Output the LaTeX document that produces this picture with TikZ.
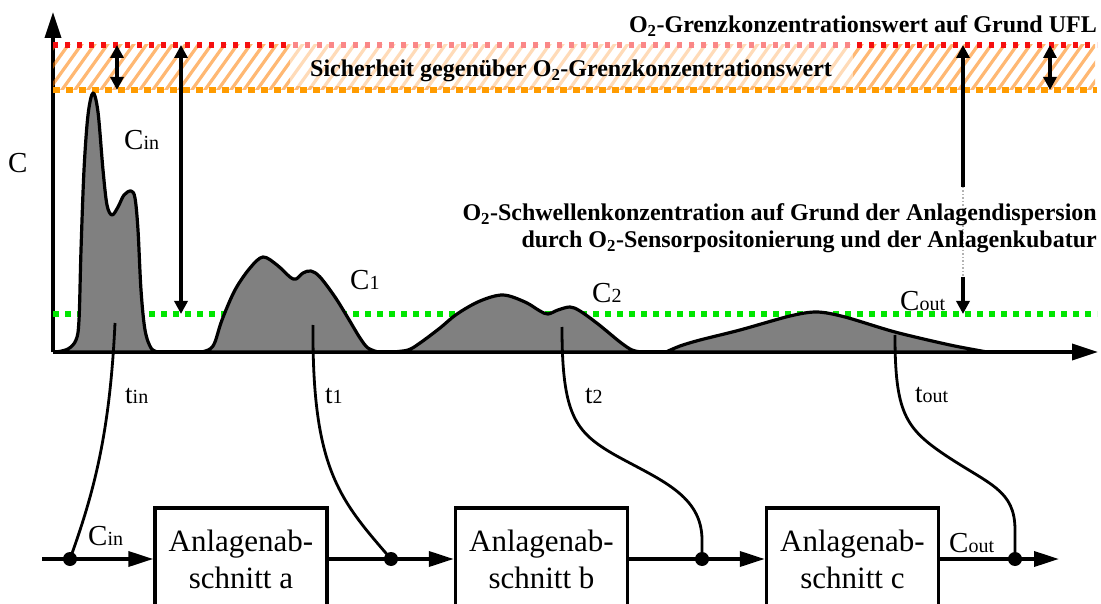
\documentclass[tikz,border=0pt]{standalone}
\usepackage{fontspec}
\setmainfont{Liberation Serif}
\usetikzlibrary{arrows.meta}

\definecolor{limitred}{RGB}{245,15,15}
\definecolor{safeorange}{RGB}{255,155,0}
\definecolor{hatchorange}{RGB}{255,125,0}
\definecolor{threshgreen}{RGB}{0,230,0}
\definecolor{peakgray}{RGB}{128,128,128}

\tikzset{
  axis/.style={line width=3.6pt,-{Triangle[length=26pt,width=16pt]}},
  peak/.style={fill=peakgray,draw=black,line width=3.2pt,line join=round},
  tracer/.style={line width=2.8pt},
  span/.style={line width=4pt,{Triangle[length=13pt,width=13pt]}-{Triangle[length=13pt,width=13pt]}},
  downarrow/.style={line width=4pt,-{Triangle[length=13pt,width=13pt]}},
  flow/.style={line width=3.6pt,-{Triangle[length=25pt,width=15pt]}},
  junction/.style={circle,fill=black,inner sep=0pt,minimum size=14pt},
  section/.style={draw,line width=3.4pt,minimum width=172pt,minimum height=102pt,
    align=center,font=\fontsize{31}{37}\selectfont,inner sep=0pt},
  clabel/.style={font=\fontsize{29}{29}\selectfont,inner sep=0pt},
  tlabel/.style={font=\fontsize{27}{27}\selectfont,inner sep=0pt},
  note/.style={font=\fontsize{24}{27}\selectfont\bfseries,inner sep=0pt},
}
\newcommand\smallidx[1]{{\fontsize{20}{20}\selectfont #1}}

\begin{document}
\begin{tikzpicture}[x=1pt,y=-1pt]
\useasboundingbox (0,0) rectangle (1101,604);
\clip (0,0) rectangle (1101,604);

% axes
\coordinate (origin) at (53,352);
\coordinate (ytop) at (53,12);
\coordinate (xend) at (1098,352);
\draw[axis] (origin) -- (ytop);
\draw[axis] (origin) -- (xend);
\node[clabel,anchor=base west] (clab) at (8,173) {C};

% safety band between the two limits
\begin{scope}
  \clip (53,45) rectangle (1095,90);
  \foreach \x in {20,33,...,1100}
    \draw[hatchorange,opacity=0.55,line width=3.2pt] (\x,94) -- (\x+38,41);
\end{scope}
\draw[limitred,line width=5.5pt,dash pattern=on 5pt off 7pt] (53,45) -- (1097,45);
\fill[white,opacity=0.5] (290,38) rectangle (853,86);
\draw[safeorange,line width=5.5pt,dash pattern=on 7pt off 6pt] (53,90) -- (1097,90);

% threshold line
\draw[threshgreen,line width=6.5pt,dash pattern=on 6pt off 6pt] (53,314) -- (1097,314);

% concentration peaks
\filldraw[peak] plot[smooth,tension=0.55] coordinates {
  (56,352) (68,349) (76,340) (79,320) (81,250) (84,170) (88,115) (93,93)
  (98,112) (103,170) (107,205) (112,215) (118,207) (124,195) (131,191)
  (135,198) (138,230) (141,290) (145,330) (151,348) (158,352)} -- cycle;
\filldraw[peak] plot[smooth,tension=0.55] coordinates {
  (202,352) (210,349) (215,342) (222,320) (235,290) (250,268) (263,257)
  (277,265) (290,277) (296,279) (303,273) (311,271) (320,277) (335,297)
  (348,318) (360,338) (368,348) (378,352)} -- cycle;
\filldraw[peak] plot[smooth,tension=0.55] coordinates {
  (392,352) (408,350) (420,343) (440,328) (457,314) (480,301) (503,295)
  (525,302) (540,311) (548,314) (558,310) (570,307) (580,311) (598,324)
  (620,342) (632,350) (642,352)} -- cycle;
\filldraw[peak] plot[smooth,tension=0.5] coordinates {
  (666,352) (680,346) (700,340) (740,330) (790,316) (817,312) (845,317)
  (895,332) (950,345) (987,352)} -- cycle;

\node[clabel,anchor=base west] (cinlab) at (124,150) {C\smallidx{in}};
\node[clabel,anchor=base west] (c1lab) at (350,290) {C\smallidx{1}};
\node[clabel,anchor=base west] (c2lab) at (592,302) {C\smallidx{2}};
\node[clabel,anchor=base west] (coutlab) at (900,310) {C\smallidx{out}};

% distance arrows
\coordinate (sa1) at (117,45);  \coordinate (sa2) at (117,90);
\coordinate (sb1) at (1050,45); \coordinate (sb2) at (1050,90);
\coordinate (la1) at (181,45);  \coordinate (la2) at (181,314);
\coordinate (ra1) at (963,45);  \coordinate (ra2) at (963,187);
\coordinate (ra3) at (963,277); \coordinate (ra4) at (963,314);
\draw[span] (sa1) -- (sa2);
\draw[span] (sb1) -- (sb2);
\draw[span] (la1) -- (la2);
\draw[line width=4pt,{Triangle[length=13pt,width=13pt]}-] (ra1) -- (ra2);
\draw[gray!60,line width=1.5pt,dotted] (ra2) -- (ra3);
\draw[downarrow] (ra3) -- (ra4);

% limit labels
\node[note,anchor=base east] (ufl) at (1097,33)
  {O\textsubscript{2}-Grenzkonzentrationswert auf Grund UFL};
\node[note,anchor=base west] (safety) at (310,77)
  {Sicherheit gegenüber O\textsubscript{2}-Grenzkonzentrationswert};
\node[note,anchor=base east] (thr1) at (1097,221)
  {O\textsubscript{2}-Schwellenkonzentration auf Grund der Anlagendispersion};
\node[note,anchor=base east] (thr2) at (1097,248)
  {durch O\textsubscript{2}-Sensorpositonierung und der Anlagenkubatur};

% plant sections
\node[section] (A) at (241,559) {Anlagenab-\\schnitt a};
\node[section] (B) at (541.5,559) {Anlagenab-\\schnitt b};
\node[section] (C) at (852.5,559) {Anlagenab-\\schnitt c};
\coordinate (feed) at (42,559);
\coordinate (exit) at (1059,559);
\draw[flow] (feed) -- (A.west);
\draw[flow] (A.east) -- (B.west);
\draw[flow] (B.east) -- (C.west);
\draw[flow] (C.east) -- (exit);
\node[junction] (j0) at (70,559) {};
\node[junction] (j1) at (391,559) {};
\node[junction] (j2) at (702,559) {};
\node[junction] (j3) at (1015,559) {};
\node[clabel,anchor=base west] (cinflow) at (88,545) {C\smallidx{in}};
\node[clabel,anchor=base west] (coutflow) at (949,552) {C\smallidx{out}};

% sampling times linked to the junctions
\coordinate (tin) at (115,323);
\coordinate (t1) at (313,325);
\coordinate (t2) at (562,327);
\coordinate (tout) at (895,335);
\draw[tracer] (tin) .. controls (110,430) and (95,490) .. (j0.center);
\draw[tracer] (t1) .. controls (312,470) and (340,500) .. (j1.center);
\draw[tracer] (t2) .. controls (562,415) and (575,432) .. (615,455)
  .. controls (660,480) and (702,495) .. (702,540) -- (j2.center);
\draw[tracer] (tout) .. controls (895,412) and (905,428) .. (945,455)
  .. controls (990,485) and (1015,490) .. (1015,530) -- (j3.center);
\node[tlabel,anchor=base west] (tinlab) at (125,403) {t\smallidx{in}};
\node[tlabel,anchor=base west] (t1lab) at (325,403) {t\smallidx{1}};
\node[tlabel,anchor=base west] (t2lab) at (585,403) {t\smallidx{2}};
\node[tlabel,anchor=base west] (toutlab) at (915,402) {t\smallidx{out}};
\end{tikzpicture}
\end{document}
